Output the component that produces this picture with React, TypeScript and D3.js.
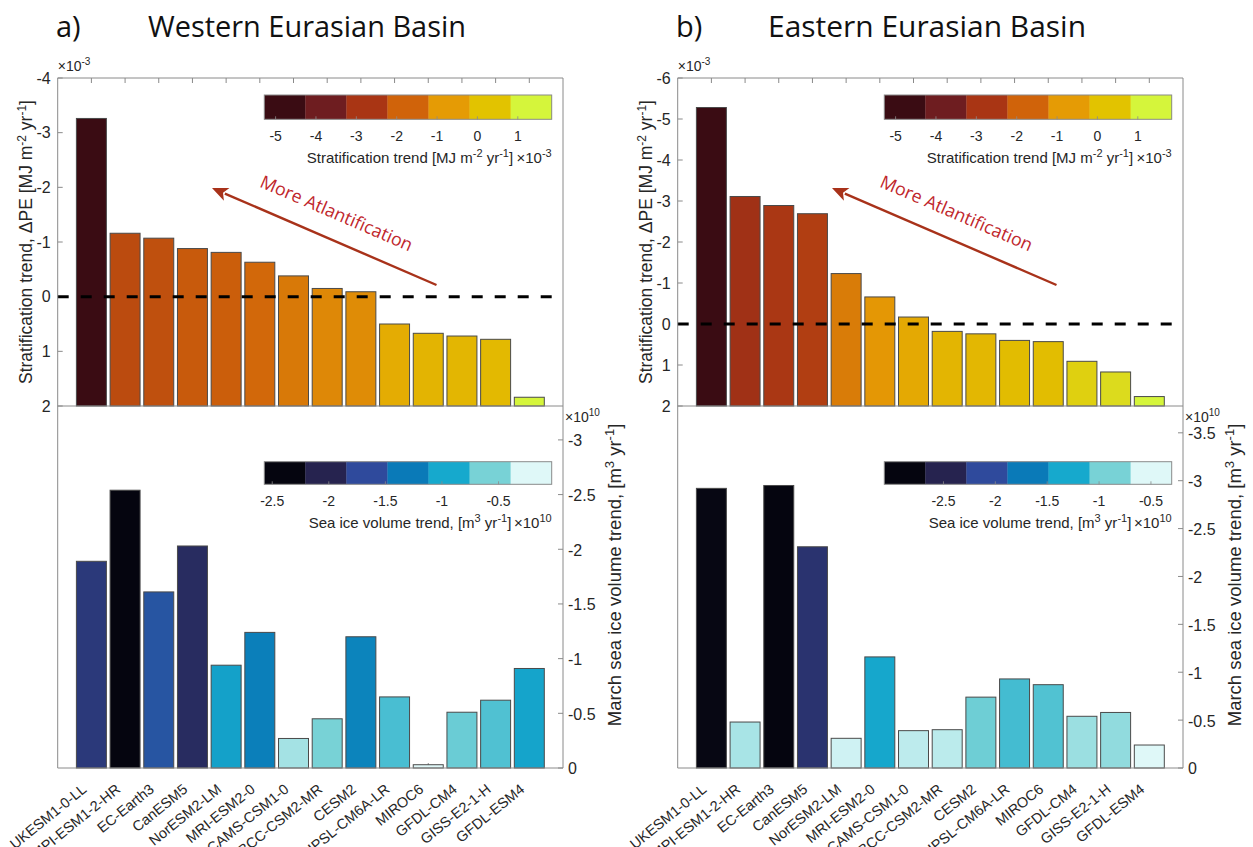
import React from "react";
import * as d3 from "d3";

const models = ["UKESM1-0-LL","MPI-ESM1-2-HR","EC-Earth3","CanESM5","NorESM2-LM","MRI-ESM2-0","CAMS-CSM1-0","BCC-CSM2-MR","CESM2","IPSL-CM6A-LR","MIROC6","GFDL-CM4","GISS-E2-1-H","GFDL-ESM4"];

// Stratification trend (x 1e-3 MJ m-2 yr-1)
const stratWest = [-3.26, -1.16, -1.07, -0.88, -0.81, -0.63, -0.38, -0.15, -0.09, 0.50, 0.67, 0.72, 0.78, 1.84];
const stratEast = [-5.28, -3.11, -2.89, -2.69, -1.23, -0.66, -0.17, 0.18, 0.24, 0.40, 0.43, 0.91, 1.17, 1.77];
// March sea ice volume trend (x 1e10 m3 yr-1)
const iceWest = [-1.89, -2.54, -1.61, -2.03, -0.94, -1.24, -0.27, -0.45, -1.20, -0.65, -0.03, -0.51, -0.62, -0.91];
const iceEast = [-2.92, -0.48, -2.95, -2.31, -0.31, -1.16, -0.39, -0.40, -0.74, -0.93, -0.87, -0.54, -0.58, -0.24];

const stratTicksWest = [-4, -3, -2, -1, 0, 1, 2];
const stratTicksEast = [-6, -5, -4, -3, -2, -1, 0, 1, 2];
const iceTicksWest = [0, -0.5, -1, -1.5, -2, -2.5, -3];
const iceTicksEast = [0, -0.5, -1, -1.5, -2, -2.5, -3, -3.5];
const stratCbarTicks = [-5, -4, -3, -2, -1, 0, 1];
const iceCbarTicks = [-2.5, -2, -1.5, -1, -0.5];

const stratColors = ["#3a0c13", "#6e1d20", "#a93514", "#d0630a", "#e59b05", "#e2c300", "#d5f53b"];
const iceColors = ["#05050f", "#26234f", "#2f4a9c", "#0a7ab8", "#16a9cd", "#78d2d6", "#dff8f8"];

const W = 1253, H = 847;
const AX = "#8a8a8a";
const TXT = "#262626";
const SANS = "'Liberation Sans', Arial, sans-serif";
const TITLEF = "'Open Sans', sans-serif";

function colorScale(vals: number[], stops: string[]) {
  const [mn, mx] = d3.extent(vals) as [number, number];
  const dom = stops.map((_, i) => mn + (i * (mx - mn)) / (stops.length - 1));
  return d3.scaleLinear<string>().domain(dom).range(stops).interpolate(d3.interpolateRgb);
}

function Colorbar({ x0, x1, y0, y1, domain, stops, ticks, label, mult }: any) {
  const s = d3.scaleLinear().domain(domain).range([x0, x1]);
  const n = stops.length;
  const bw = (x1 - x0) / n;
  return (
    <g>
      {stops.map((c: string, i: number) => (
        <rect key={i} x={x0 + i * bw} y={y0} width={bw + 0.3} height={y1 - y0} fill={c} />
      ))}
      <rect x={x0} y={y0} width={x1 - x0} height={y1 - y0} fill="none" stroke={AX} strokeWidth={1} />
      {ticks.map((t: number) => (
        <g key={t}>
          <line x1={s(t)} x2={s(t)} y1={y1} y2={y1 - 3} stroke={AX} strokeWidth={0.8} />
          <text x={s(t)} y={y1 + 22} textAnchor="middle" fontSize={14} fill={TXT} fontFamily={SANS}>
            {t}
          </text>
        </g>
      ))}
      <text x={(x0 + x1) / 2 + 2} y={y1 + 44} textAnchor="middle" fontSize={15} fill={TXT} fontFamily={SANS}>
        {label}
      </text>
      <text x={x1} y={y1 + 44} textAnchor="end" fontSize={15} fill={TXT} fontFamily={SANS}>
        <tspan>{"\u00d7"}10</tspan>
        <tspan dy={-6} fontSize={11}>{mult}</tspan>
      </text>
    </g>
  );
}

function Panel({ ox, letter, title, strat, ice, stratDomain, stratTicks, iceDomain, iceTicks, stratCbarDomain, iceCbarDomain }: any) {
  const xL = ox + 57.7, xR = ox + 563;
  const topY0 = 78, midY = 406, botY = 768;
  const x = d3.scaleBand<string>().domain(models).range([xL + 33.7 / 2, xR - 33.7 / 2]).paddingInner(0.11).paddingOuter(0.055);
  const ys = d3.scaleLinear().domain(stratDomain).range([topY0, midY]);
  const yi = d3.scaleLinear().domain(iceDomain).range([botY, midY]);
  const cs = colorScale(strat, stratColors);
  const ci = colorScale(ice, iceColors);
  const cx = (m: string) => (x(m) as number) + x.bandwidth() / 2;
  const ax0 = ox + 436.5, ay0 = 285, ax1 = ox + 212, ay1 = 188;
  const ang = (Math.atan2(ay0 - ay1, ax0 - ax1) * 180) / Math.PI;
  const ux = (ax1 - ax0), uy = (ay1 - ay0);
  const ul = Math.hypot(ux, uy);
  const nx = ux / ul, ny = uy / ul;
  const hl = 16, hw = 7;
  const bx = ax1 - nx * hl, by = ay1 - ny * hl;
  const head = `M${ax1},${ay1} L${bx - ny * hw},${by + nx * hw} L${bx + nx * 4},${by + ny * 4} L${bx + ny * hw},${by - nx * hw} Z`;
  return (
    <g>
      <text x={ox + 56} y={37} fontSize={29} fontFamily={TITLEF} fill="#111">{letter}</text>
      <text x={ox + 148} y={37} fontSize={30} fontFamily={TITLEF} fill="#111" textLength={318} lengthAdjust="spacingAndGlyphs">{title}</text>

      {/* top panel */}
      {models.map((m) => (
        <line key={"tt" + m} x1={cx(m)} x2={cx(m)} y1={topY0} y2={topY0 + 5} stroke={AX} strokeWidth={1} />
      ))}
      {stratTicks.map((t: number) => (
        <g key={"st" + t}>
          <line x1={xL} x2={xL + 5} y1={ys(t)} y2={ys(t)} stroke={AX} strokeWidth={1} />
          <text x={xL - 7} y={ys(t)} dy="0.35em" textAnchor="end" fontSize={16} fill={TXT} fontFamily={SANS}>{t}</text>
        </g>
      ))}
      {models.map((m, i) => (
        <rect key={"sb" + m} x={x(m)} y={ys(strat[i])} width={x.bandwidth()} height={ys(stratDomain[1]) - ys(strat[i])} fill={cs(strat[i])} stroke="#4a4a4a" strokeWidth={1} />
      ))}
      <line x1={xL} x2={xR} y1={ys(0)} y2={ys(0)} stroke="#000" strokeWidth={3} strokeDasharray="11 12" />
      <path d={`M${xL},${midY} L${xL},${topY0} L${xR},${topY0} L${xR},${midY} L${xL},${midY}`} fill="none" stroke={AX} strokeWidth={1} />
      <text x={xL} y={71} fontSize={14} fill={TXT} fontFamily={SANS}>
        <tspan>{"\u00d7"}10</tspan>
        <tspan dy={-6} fontSize={10}>-3</tspan>
      </text>
      <text transform={`translate(${ox + 32},${242}) rotate(-90)`} textAnchor="middle" fontSize={17.5} fill={TXT} fontFamily={SANS}>
        <tspan>Stratification trend, {"\u0394"}PE [MJ m</tspan>
        <tspan dy={-6} fontSize={12}>-2</tspan>
        <tspan dy={6}> yr</tspan>
        <tspan dy={-6} fontSize={12}>-1</tspan>
        <tspan dy={6}>]</tspan>
      </text>

      {/* arrow */}
      <line x1={ax0} y1={ay0} x2={bx + nx * 2} y2={by + ny * 2} stroke="#a8321a" strokeWidth={2.4} />
      <path d={head} fill="#a8321a" />
      <text transform={`translate(${ox + 334},${219}) rotate(${ang})`} textAnchor="middle" fontSize={18} fontFamily={TITLEF} fill="#c0272d" textLength={164} lengthAdjust="spacingAndGlyphs">More Atlantification</text>

      <Colorbar x0={ox + 264.3} x1={ox + 551.7} y0={95} y1={119.3} domain={stratCbarDomain} stops={stratColors} ticks={stratCbarTicks}
        label={<><tspan>Stratification trend [MJ m</tspan><tspan dy={-6} fontSize={11}>-2</tspan><tspan dy={6}> yr</tspan><tspan dy={-6} fontSize={11}>-1</tspan><tspan dy={6}>]</tspan></>} mult="-3" />

      {/* bottom panel */}
      {models.map((m) => (
        <line key={"bt" + m} x1={cx(m)} x2={cx(m)} y1={botY} y2={botY - 5} stroke={AX} strokeWidth={1} />
      ))}
      {models.map((m, i) => (
        <rect key={"ib" + m} x={x(m)} y={yi(ice[i])} width={x.bandwidth()} height={yi(0) - yi(ice[i])} fill={ci(ice[i])} stroke="#4a4a4a" strokeWidth={1} />
      ))}
      <path d={`M${xL},${midY} L${xL},${botY} L${xR},${botY} L${xR},${midY}`} fill="none" stroke={AX} strokeWidth={1} />
      {iceTicks.map((t: number) => (
        <g key={"it" + t}>
          <line x1={xR} x2={xR - 5} y1={yi(t)} y2={yi(t)} stroke={AX} strokeWidth={1} />
          <text x={xR + 5} y={yi(t)} dy="0.4em" textAnchor="start" fontSize={16} fill={TXT} fontFamily={SANS}>{t}</text>
        </g>
      ))}
      <text x={xR + 2} y={422} fontSize={14} fill={TXT} fontFamily={SANS}>
        <tspan>{"\u00d7"}10</tspan>
        <tspan dy={-6} fontSize={10}>10</tspan>
      </text>
      <text transform={`translate(${xR + 58},${575}) rotate(-90)`} textAnchor="middle" fontSize={18.5} fill={TXT} fontFamily={SANS}>
        <tspan>March sea ice volume trend, [m</tspan>
        <tspan dy={-7} fontSize={13}>3</tspan>
        <tspan dy={7}> yr</tspan>
        <tspan dy={-7} fontSize={13}>-1</tspan>
        <tspan dy={7}>]</tspan>
      </text>
      <Colorbar x0={ox + 264.3} x1={ox + 551.7} y0={461.7} y1={484.3} domain={iceCbarDomain} stops={iceColors} ticks={iceCbarTicks}
        label={<><tspan>Sea ice volume trend, [m</tspan><tspan dy={-6} fontSize={11}>3</tspan><tspan dy={6}> yr</tspan><tspan dy={-6} fontSize={11}>-1</tspan><tspan dy={6}>]</tspan></>} mult="10" />

      {models.map((m) => (
        <text key={"xl" + m} transform={`translate(${cx(m) - 7},${787}) rotate(-39)`} dy="0.35em" textAnchor="end" fontSize={14.5} fill={TXT} fontFamily={SANS}>{m}</text>
      ))}
    </g>
  );
}

export default function App() {
  const stratAll = d3.extent([...stratWest, ...stratEast]) as [number, number];
  const iceW = d3.extent(iceWest) as [number, number];
  const iceE = d3.extent(iceEast) as [number, number];
  return (
    <svg width={W} height={H} style={{ position: "absolute", left: 0, top: 0, background: "#fff" }}>
      <rect width={W} height={H} fill="#fff" />
      <Panel ox={0} letter="a)" title="Western Eurasian Basin" strat={stratWest} ice={iceWest}
        stratDomain={[-4, 2]} stratTicks={stratTicksWest} iceDomain={[0, -3.31]} iceTicks={iceTicksWest} stratCbarDomain={stratAll} iceCbarDomain={[iceW[0] - 0.03, iceW[1]]} />
      <Panel ox={620} letter="b)" title="Eastern Eurasian Basin" strat={stratEast} ice={iceEast}
        stratDomain={[-6, 2]} stratTicks={stratTicksEast} iceDomain={[0, -3.78]} iceTicks={iceTicksEast} stratCbarDomain={stratAll} iceCbarDomain={[iceE[0] - 0.12, iceE[1] - 0.06]} />
    </svg>
  );
}
